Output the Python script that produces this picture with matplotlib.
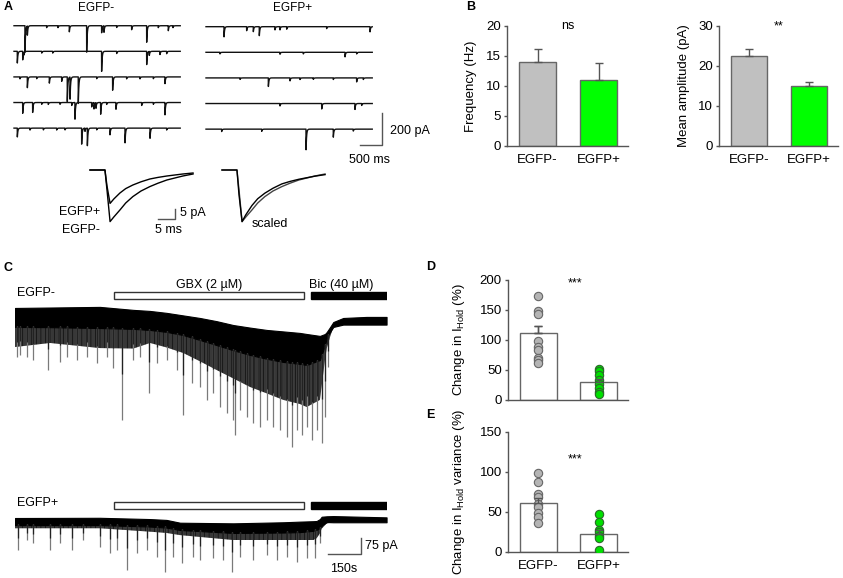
import numpy as np
import matplotlib
matplotlib.use('Agg')
import matplotlib.pyplot as plt
from matplotlib.patches import Rectangle

plt.rcParams['font.family'] = ['Liberation Sans', 'DejaVu Sans']
plt.rcParams['mathtext.fontset'] = 'custom'
plt.rcParams['mathtext.rm'] = 'Liberation Sans'
plt.rcParams['mathtext.it'] = 'Liberation Sans:italic'
plt.rcParams['hatch.linewidth'] = 0.8

# ---------------- DATA ----------------
groups = ['EGFP-', 'EGFP+']

# Panel A: sIPSC events per sweep (time ms, amplitude pA)
a_dur = 3780
a_neg_t = [
    [250, 303, 742, 1000, 1258, 1652, 1992, 2045, 2333, 2674, 3015, 3280, 3508, 3614],
    [76, 197, 227, 629, 879, 1992, 2333, 3015, 3076, 3318, 3470],
    [136, 303, 515, 803, 1083, 1212, 1273, 1462, 1879, 2242, 2560, 2864, 3167, 3432],
    [197, 424, 629, 780, 1045, 1311, 1386, 1765, 1818, 1864, 1970, 2106, 2318, 2901, 3167, 3432],
    [76, 364, 667, 970, 1159, 1538, 1614, 1667, 1879, 2182, 2523, 3091, 3470],
]
a_neg_amp = [
    [165, 62, 12, 12, 38, 165, 44, 44, 12, 25, 112, 12, 31, 12],
    [73, 58, 20, 12, 12, 125, 15, 90, 25, 20, 15],
    [12, 73, 12, 42, 30, 155, 150, 166, 12, 83, 12, 12, 12, 42],
    [73, 62, 12, 12, 12, 20, 104, 30, 40, 35, 73, 12, 42, 20, 12, 77],
    [55, 12, 12, 12, 12, 100, 20, 119, 12, 42, 100, 69, 12],
]
a_pos_t = [
    [409, 924, 1076, 1212, 1568, 1682, 1833, 2742, 3727],
    [318, 1682, 2212, 3159, 3424],
    [773, 1417, 1909, 2136, 2439, 2894, 3424, 3576],
    [1682, 2629, 3386, 3538],
    [356, 1265, 2273, 2894, 3348],
]
a_pos_amp = [
    [69, 25, 31, 56, 20, 20, 17, 12, 35],
    [10, 12, 10, 31, 10],
    [10, 58, 20, 10, 10, 10, 25, 10],
    [15, 37, 37, 12],
    [15, 15, 140, 50, 12],
]

# Panel A: averaged sIPSCs (ms, pA)
mean_t = [0, 4.4, 5.0, 5.9, 7.0, 8.8, 10.5, 12.6, 15.0, 17.6, 20.0, 22.6, 27.3, 30.3]
mean_neg = [0, 0, -10, -25.8, -23.5, -20, -16.5, -13.3, -10.5, -8.3, -6.6, -5, -3, -2]
mean_pos = [0, 0, -8, -16.7, -14.5, -11.5, -9.3, -7.5, -5.9, -4.5, -3.7, -3, -2, -1.5]

# Panel B
freq_mean = [14.0, 11.0]
freq_sem = [2.1, 2.8]
amp_mean = [22.6, 14.9]
amp_sem = [1.6, 1.1]

# Panel C: long recordings (s, pA)
gbx_on, gbx_off = 451, 1315
bic_on, bic_off = 1346, 1689
c_dur = 1691
cneg_env_t = [0, 159, 386, 538, 614, 689, 765, 841, 917, 992, 1068, 1144, 1220, 1295,
              1326, 1386, 1409, 1417, 1432, 1447, 1492, 1598, 1689]
cneg_top = [0, 2, 5, -9, -14, -23, -35, -47, -62, -80, -92, -103, -110, -117,
            -122, -131, -122, -113, -90, -66, -47, -42, -42]
cneg_core = [-89, -90, -94, -98, -103, -112, -127, -150, -174, -198, -220, -238, -253, -262,
             -267, -244, -174, -140, -113, -89, -78, -78, -78]
cneg_bot = [-183, -164, -188, -190, -164, -185, -211, -250, -291, -330, -370, -400, -431, -450,
            -464, -431, -244, -190, -136, -89, -78, -78, -78]
cneg_spk_t = [8, 23, 53, 83, 152, 205, 235, 280, 326, 371, 417, 447, 485, 538, 568, 611,
              644, 689, 735, 762, 803, 841, 871, 902, 932, 962, 992, 1001, 1023, 1053,
              1083, 1114, 1144, 1174, 1204, 1235, 1258, 1280, 1303, 1326, 1348, 1371,
              1394, 1409, 1424]
cneg_spk_amp = [-228, -220, -228, -244, -291, -252, -228, -244, -228, -259, -228, -283, -525,
                -244, -228, -400, -259, -244, -291, -502, -353, -369, -431, -400, -463, -494,
                -525, -596, -478, -509, -541, -557, -525, -557, -572, -603, -650, -572, -596,
                -557, -619, -572, -635, -509, -275]

cpos_env_t = [0, 386, 614, 689, 750, 992, 1220, 1295, 1356, 1371, 1386, 1394, 1417, 1447, 1689]
cpos_top = [0, 1, -5, -9, -22, -25, -20, -17, -15, -14, -5, 6, 8, 9, 3]
cpos_core = [-33, -33, -40, -45, -56, -70, -68, -66, -60, -55, -47, -35, -19, -20, -20]
cpos_bot = [-48, -48, -64, -70, -80, -103, -103, -103, -103, -95, -72, -50, -25, -20, -20]
cpos_spk_t = [15, 53, 83, 159, 205, 258, 311, 386, 432, 462, 511, 553, 598, 644, 682, 720,
              757, 810, 841, 902, 947, 985, 1023, 1083, 1144, 1189, 1235, 1280, 1326, 1364, 1386]
cpos_spk_amp = [-150, -103, -119, -150, -119, -150, -103, -134, -166, -150, -244, -166, -150,
                -181, -252, -181, -213, -181, -197, -189, -197, -252, -181, -197, -173, -197,
                -181, -205, -189, -189, -119]

# Panel D / E
d_mean = [112, 29.5]
d_sem = [12, 5]
d_pts_neg = [174, 149, 143, 99, 88, 84, 70, 66, 61]
d_pts_pos = [52, 49, 41, 33, 27, 20, 13, 10]
e_mean = [61, 23]
e_sem = [6, 4]
e_pts_neg = [99, 87, 72, 69, 60, 56, 49, 44, 36]
e_pts_pos = [48, 38, 28, 25, 20, 17, 3]

# scale bars
sb_a = (500, 200)
sb_m = (5, 5)
sb_c = (150, 75)

# ---------------- FIGURE ----------------
W, H = 843, 578
fig = plt.figure(figsize=(W / 100, H / 100), dpi=100)


def px_axes(x0, y0, x1, y1):
    return fig.add_axes([x0 / W, 1 - y1 / H, (x1 - x0) / W, (y1 - y0) / H])


def ftext(x, y, s, **kw):
    fig.text(x / W, 1 - y / H, s, **kw)


def blank(ax):
    ax.set_axis_off()


FS = 9
GRAYL = '#555555'

# panel letters
for let, (x, y) in {'A': (4, 7), 'B': (466, 7), 'C': (4, 268), 'D': (426, 267), 'E': (426, 415)}.items():
    ftext(x, y, let, fontsize=9, fontweight='bold', va='center', ha='left')

# ---- Panel A traces
def build_trace(ts, amps, dur, tau=12.0):
    t = np.arange(0, dur, 2.0)
    y = np.zeros_like(t)
    for t0, a in zip(ts, amps):
        m = t >= t0
        y[m] -= a * np.exp(-(t[m] - t0) / tau)
    return t, y

row_sp = 160
axl = px_axes(14, 15, 180.3, 155)
axl.set_xlim(0, a_dur)
axl.set_ylim(-808, 67)
blank(axl)
for i, (ts, am) in enumerate(zip(a_neg_t, a_neg_amp)):
    t, y = build_trace(ts, am, a_dur)
    axl.plot(t, y - row_sp * i, color='#111111', lw=1.0, clip_on=False)

axr = px_axes(206, 15, 400, 165)
axr.set_xlim(0, 4409)
axr.set_ylim(-864, 73)
blank(axr)
for i, (ts, am) in enumerate(zip(a_pos_t, a_pos_amp)):
    t, y = build_trace(ts, am, a_dur)
    axr.plot(t, y - row_sp * i, color='#111111', lw=1.0, clip_on=False)
# scale bar
sbx, sby = 4000, -739
axr.plot([sbx - sb_a[0], sbx, sbx], [sby, sby, sby + sb_a[1]], color=GRAYL, lw=1, clip_on=False)
axr.text(sbx + 180, -652, '200 pA', fontsize=FS, va='center', ha='left')
axr.text(3727, -833, '500 ms', fontsize=FS, va='center', ha='center')

ftext(96, 8, groups[0], fontsize=8.5, ha='center', va='center')
ftext(293, 8, groups[1], fontsize=8.5, ha='center', va='center')

# mean traces
axm = px_axes(85, 160, 200, 240)
axm.set_xlim(-1.47, 32.35)
axm.set_ylim(-35, 5)
blank(axm)
axm.plot(mean_t, mean_neg, color='black', lw=1.0)
axm.plot(mean_t, mean_pos, color='black', lw=1.0)
axm.text(2.9, -20.8, 'EGFP+', fontsize=FS, ha='right', va='center')
axm.text(2.9, -30, 'EGFP-', fontsize=FS, ha='right', va='center')
axm.plot([25 - sb_m[0], 25, 25], [-24.5, -24.5, -24.5 + sb_m[1]], color=GRAYL, lw=1)
axm.text(26.6, -21.5, '5 pA', fontsize=FS, ha='left', va='center')
axm.text(23.2, -30, '5 ms', fontsize=FS, ha='center', va='center')

axs = px_axes(217, 160, 332, 240)
axs.set_xlim(-1.47, 32.35)
axs.set_ylim(-35, 5)
blank(axs)
ratio = min(mean_neg) / min(mean_pos)
axs.plot(mean_t, mean_neg, color='#444444', lw=1.0)
axs.plot(mean_t, np.array(mean_pos) * ratio, color='black', lw=1.0)
axs.text(8.8, -27, 'scaled', fontsize=FS, ha='left', va='center')

# ---- Panel B bars
def bar_axes(box, means, sems, ylim, yticks, ylabel, colors, star, labx, show_x=True):
    ax = px_axes(*box)
    x = np.arange(2)
    ax.bar(x, means, width=0.61, color=colors, edgecolor='#666666', linewidth=1.0, zorder=2)
    ax.errorbar(x, means, yerr=[np.zeros(2), sems], fmt='none', ecolor='#555555',
                elinewidth=1.0, capsize=3, capthick=1.0, zorder=3)
    ax.set_xlim(-0.5, 1.48)
    ax.set_ylim(*ylim)
    ax.set_yticks(yticks)
    for s in ['top', 'right']:
        ax.spines[s].set_visible(False)
    for s in ['left', 'bottom']:
        ax.spines[s].set_color(GRAYL)
        ax.spines[s].set_linewidth(1.0)
    ax.tick_params(axis='y', length=2.5, width=1, color=GRAYL, pad=2, labelsize=FS + 0.5)
    ax.tick_params(axis='x', length=0, pad=6, labelsize=FS + 0.5)
    if show_x:
        ax.set_xticks(x)
        ax.set_xticklabels(groups)
    else:
        ax.set_xticks([])
    ax.set_ylabel(ylabel, fontsize=FS + 0.5)
    ax.yaxis.set_label_coords(labx, 0.5)
    ax.text(0.5, 1.0, star, transform=ax.transAxes, ha='center', va='center', fontsize=FS)
    return ax

bar_axes((507, 26, 628, 146), freq_mean, freq_sem, (0, 20), [0, 5, 10, 15, 20],
         'Frequency (Hz)', ['#c0c0c0', '#00ff00'], 'ns', -0.248)
axa = bar_axes((719, 26, 838, 146), amp_mean, amp_sem, (0, 30), [0, 10, 20, 30],
               'Mean amplitude (pA)', ['#c0c0c0', '#00ff00'], '**', -0.244)

# ---- Panel C long traces
def long_trace(box, ylim, env_t, top, core, bot, spk_t, spk_amp, label):
    ax = px_axes(*box)
    ax.set_xlim(0, c_dur)
    ax.set_ylim(*ylim)
    blank(ax)
    # dense comb of small events
    ax.fill_between(env_t, core, bot, facecolor='#8a8a8a', alpha=0.45, linewidth=0)
    ax.fill_between(env_t, core, bot, facecolor='none', edgecolor='#1a1a1a', hatch='|' * 13,
                    linewidth=0)
    # solid core of the trace
    ax.fill_between(env_t, top, core, color='black', lw=0.8, edgecolor='black')
    base = np.interp(spk_t, env_t, core)
    ax.vlines(spk_t, np.array(base) + 5, spk_amp, color='#7a7a7a', lw=0.9)
    ax.vlines(spk_t, np.array(base) + 5, (np.array(base) + np.array(spk_amp)) / 2,
              color='#222222', lw=0.9)
    ax.add_patch(Rectangle((gbx_on, 40), gbx_off - gbx_on, 34, facecolor='white',
                           edgecolor='#333333', lw=1.0))
    ax.add_patch(Rectangle((bic_on, 40), bic_off - bic_on, 34, facecolor='black',
                           edgecolor='black', lw=1.0))
    ax.text(9, 70, label, fontsize=FS, ha='left', va='center')
    return ax

c1 = long_trace((15, 280, 387, 455), (-689, 131), cneg_env_t, cneg_top, cneg_core, cneg_bot,
                cneg_spk_t, cneg_spk_amp, 'EGFP-')
c1.text((gbx_on + gbx_off) / 2, 108, 'GBX (2 µM)', fontsize=FS, ha='center', va='center')
c1.text(bic_on - 10, 108, 'Bic (40 µM)', fontsize=FS, ha='left', va='center')
c2 = long_trace((15, 480, 387, 578), (-281, 178), cpos_env_t, cpos_top, cpos_core, cpos_bot,
                cpos_spk_t, cpos_spk_amp, 'EGFP+')
sx, sy = 1571, -169
c2.plot([sx - sb_c[0], sx, sx], [sy, sy, sy + sb_c[1]], color=GRAYL, lw=1, clip_on=False)
c2.text(sx + 18, -131, '75 pA', fontsize=FS, ha='left', va='center')
c2.text(1496, -239, '150s', fontsize=FS, ha='center', va='center', clip_on=False)

# ---- Panel D / E
def dot_axes(box, means, sems, pts_neg, pts_pos, ylim, yticks, ylabel, show_x):
    ax = bar_axes(box, means, sems, ylim, yticks, ylabel, ['white', 'white'], '', -0.34, show_x)
    ax.scatter(np.zeros(len(pts_neg)), pts_neg, s=36, color='#b4b4b4', edgecolor='#666666',
               linewidth=0.8, zorder=4)
    ax.scatter(np.ones(len(pts_pos)), pts_pos, s=36, color='#00e000', edgecolor='#2a6a2a',
               linewidth=0.8, zorder=4)
    ax.errorbar(np.arange(2), means, yerr=[np.zeros(2), sems], fmt='none', ecolor='#555555',
                elinewidth=1.0, capsize=3, capthick=1.0, zorder=5)
    return ax

d_ax = dot_axes((508, 280, 628, 400), d_mean, d_sem, d_pts_neg, d_pts_pos, (0, 200),
                [0, 50, 100, 150, 200], r'Change in I$_{\mathrm{Hold}}$ (%)', False)
d_ax.text(0.56, 0.97, '***', transform=d_ax.transAxes, ha='center', va='center', fontsize=FS)
e_ax = dot_axes((508, 432, 628, 552), e_mean, e_sem, e_pts_neg, e_pts_pos, (0, 150),
                [0, 50, 100, 150], r'Change in I$_{\mathrm{Hold}}$ variance (%)', True)
e_ax.text(0.56, 0.77, '***', transform=e_ax.transAxes, ha='center', va='center', fontsize=FS)

fig.savefig('out.png', dpi=100)
